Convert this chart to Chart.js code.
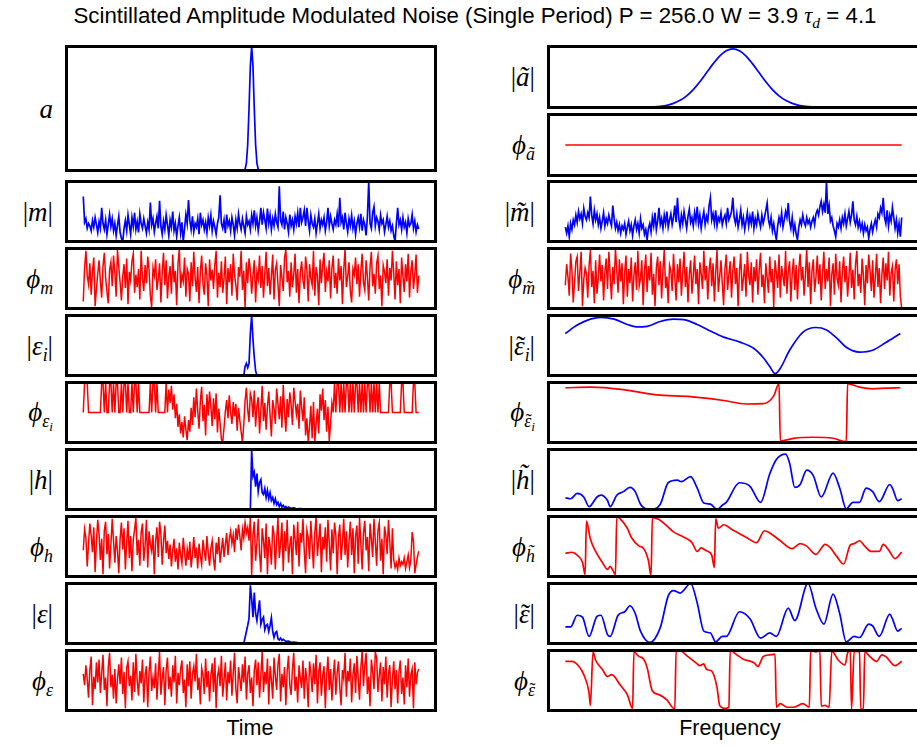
<!DOCTYPE html>
<html><head><meta charset="utf-8">
<script src="https://cdn.jsdelivr.net/npm/chart.js@4/dist/chart.umd.min.js"></script>
<style>
html,body{margin:0;padding:0;background:#fff;overflow:hidden;width:917px;height:746px}
#root{position:relative;width:917px;height:746px;overflow:hidden;background:#fff}
canvas{position:absolute}
.lbl{position:absolute;font-family:'Liberation Serif','DejaVu Serif',serif;font-size:27px;color:#000;white-space:nowrap;line-height:1;transform:translateY(-50%);text-align:right}
.lbl i{font-style:italic}
.lbl sub{font-size:0.66em;vertical-align:-0.35em;line-height:0}
.lbl sub sub{font-size:0.75em;vertical-align:-0.3em}
.tl{position:relative;display:inline-block}
.tl::after{content:'\02DC';position:absolute;left:0.08em;right:0;top:0;text-align:center;font-style:normal}
.txt{position:absolute;font-family:'Liberation Sans',Arial,sans-serif;color:#000;white-space:nowrap;line-height:1;transform:translate(-50%,-50%)}
.m{font-family:'Liberation Serif','DejaVu Serif',serif;font-style:italic}
.m sub{font-size:0.7em;vertical-align:-0.3em;line-height:0}
</style></head>
<body><div id="root"></div>
<script>
// ---------------- data ----------------
const PI = Math.PI;
const T = 3.14;
// time domain (sample index 0..255)
const aX = [0, 122, 123, 124, 125, 126, 127, 128, 129, 130, 131, 132, 133, 134, 255];
const aY = [0, 0, 0.01, 0.06, 0.21, 0.5, 0.84, 1, 0.84, 0.5, 0.21, 0.06, 0.01, 0, 0];

const mMag = [
 0.75,0.32,0.38,0.22,0.30,0.26,0.18,0.35,0.24,0.40,0.28,0.15,0.33,0.22,0.56,0.30,
 0.20,0.36,0.12,0.28,0.45,0.25,0.38,0.18,0.30,0.10,0.27,0.42,0.15,0.05,0.0,0.22,
 0.35,0.18,0.44,0.28,0.12,0.40,0.25,0.48,0.20,0.33,0.15,0.46,0.30,0.22,0.38,0.26,
 0.14,0.32,0.20,0.65,0.28,0.38,0.16,0.30,0.42,0.22,0.68,0.25,0.12,0.34,0.20,0.44,
 0.28,0.10,0.36,0.24,0.50,0.18,0.30,0.08,0.26,0.40,0.14,0.32,0.0,0.22,0.45,0.30,
 0.69,0.35,0.20,0.42,0.16,0.30,0.24,0.38,0.12,0.48,0.28,0.36,0.20,0.32,0.15,0.40,
 0.26,0.44,0.18,0.34,0.24,0.12,0.30,0.40,0.77,0.30,0.22,0.36,0.14,0.45,0.26,0.34,
 0.18,0.40,0.28,0.10,0.36,0.22,0.46,0.30,0.20,0.38,0.26,0.14,0.42,0.28,0.34,0.20,
 0.44,0.30,0.52,0.26,0.40,0.18,0.34,0.56,0.28,0.48,0.36,0.22,0.55,0.30,0.44,0.20,
 0.38,0.26,0.46,0.32,0.24,0.92,0.35,0.28,0.50,0.20,0.40,0.30,0.16,0.45,0.26,0.36,
 0.20,0.42,0.30,0.48,0.24,0.56,0.32,0.40,0.52,0.26,0.56,0.34,0.18,0.44,0.30,0.24,
 0.38,0.14,0.30,0.46,0.22,0.36,0.28,0.40,0.18,0.32,0.56,0.26,0.42,0.30,0.20,0.36,
 0.28,0.46,0.24,0.73,0.32,0.40,0.20,0.48,0.30,0.16,0.38,0.26,0.44,0.22,0.34,0.12,
 0.30,0.40,0.24,0.46,0.18,0.36,0.28,0.10,0.42,1.0,0.30,0.22,0.48,0.58,0.26,0.40,
 0.34,0.20,0.44,0.30,0.36,0.16,0.28,0.42,0.24,0.34,0.18,0.26,0.10,0.0,0.30,0.56,
 0.28,0.36,0.20,0.40,0.24,0.32,0.14,0.38,0.26,0.30,0.45,0.22,0.34,0.16,0.28,0.21];
const mPhase = [
 -2.4,1.1,2.9,0.3,-0.6,1.6,-1.7,0.8,2.2,-2.9,-1.1,0.5,1.9,-0.3,-2.0,1.3,
 2.7,0.1,-1.4,-2.6,0.9,1.7,-0.8,2.4,0.6,-1.9,3.0,1.2,-0.4,-2.3,0.2,1.5,
 -1.0,2.1,-2.7,0.7,-0.2,1.8,2.6,-1.5,0.4,-0.9,1.0,-2.2,2.9,0.0,-1.3,1.4,
 -0.5,2.3,0.9,-1.8,-3.0,1.1,0.3,2.0,-1.2,-0.1,1.6,-2.5,0.6,2.7,-0.7,1.9,
 -2.1,0.2,1.3,-1.6,2.5,-0.4,0.8,-2.8,1.5,3.1,-1.0,0.4,-0.3,2.2,-1.9,1.0,
 0.5,-2.4,1.7,-0.8,2.8,0.1,-1.4,1.2,-2.6,0.7,2.4,-0.6,-1.7,1.6,0.3,-2.9,
 2.0,-0.2,0.9,-1.1,1.4,2.9,-2.0,0.6,-0.9,1.8,-1.5,0.0,2.3,-2.7,1.1,-0.4,
 1.5,-1.8,2.6,0.4,-0.7,-2.3,1.2,0.2,2.9,-1.2,0.8,-3.1,1.7,-0.5,2.1,0.9,
 -1.6,0.3,1.9,-2.5,0.7,-0.1,2.4,-1.0,1.3,-2.0,0.5,2.8,-0.8,1.1,-1.7,0.2,
 2.5,-2.2,0.9,1.6,-0.6,-2.9,1.4,0.1,-1.3,2.2,3.0,-0.4,0.8,-1.9,1.7,-0.9,
 0.4,2.6,-1.5,1.0,-2.6,0.6,1.8,-0.2,-1.1,2.3,0.9,-2.4,1.5,0.0,-0.7,2.9,
 -1.8,1.2,0.3,-2.8,2.0,-0.5,1.4,2.7,-1.4,0.7,-0.3,1.9,-2.1,1.1,2.4,-1.0,
 0.6,-1.6,2.1,-0.2,1.3,-2.7,0.9,3.1,-0.9,0.2,1.7,-1.3,-2.5,1.0,0.4,2.2,
 -0.6,1.5,-1.9,0.8,2.6,-0.4,-1.2,1.9,0.1,-2.3,1.2,2.8,-0.8,0.5,-1.6,1.6,
 2.4,-1.1,0.3,-2.9,1.4,0.7,-0.5,2.0,-1.8,1.1,-0.2,2.9,0.6,-2.2,1.8,-0.7,
 1.0,-2.6,2.2,0.2,-1.4,1.5,-0.3,2.6,-2.0,0.8,1.9,-1.1,0.4,2.5,-1.5,0.3];

const eiX = [0, 122, 123, 124, 125, 126, 127, 128, 129, 130, 131, 132, 255];
const eiY = [0, 0, 0.15, 0.2, 0.13, 0.2, 0.7, 1.0, 0.6, 0.3, 0.08, 0, 0];
const eiPhaseLeft = [
 0,T,T,T,0,0,0,0,0,0,0,0,0,0,T,T,
 0,T,0,0,T,T,0,T,0,T,T,0,0,T,0,T,
 T,0,T,0,0,T,0,T,T,0,T,0,0,0,0,0,
 0,0,0,T,0,T,T,0,T,0,0,0,0,0,0,T,
 0];
const eiPhaseMid = [
 2.4,1.0,2.8,0.3,1.9,-0.6,0.9,-1.5,-0.2,-2.2,-1.0,-2.6,-0.4,-1.8,-2.9,-0.8,
 -2.0,0.5,-1.3,1.6,-0.5,2.5,0.2,-1.7,1.2,2.7,-0.9,0.8,-2.4,1.9,-0.3,2.2,
 0.6,-1.4,1.5,-0.7,2.0,-2.1,0.4,-1.1,-2.8,-3.1,-1.6,0.1,1.3,-0.6,1.8,0.0,
 -1.2,1.1,-0.4,0.9,-1.9,0.5,-0.8,-2.0,-3.1,-1.3,1.2,2.6,0.3,-1.0,2.0,1.4,
 -0.5,2.3,-1.5,0.7,1.6,-2.2,0.2,2.8,-0.9,1.0,-1.8,0.6,2.2,-0.3,-2.5,1.3,
 0.4,-1.2,2.5,0.9,-0.7,1.7,-1.6,2.9,0.1,-2.0,1.4,-0.5,2.1,0.8,-1.3,2.6,
 1.2,-0.2,0.9,-1.7,2.3,0.5,-0.9,1.6,-2.4,-0.6,-3.1,-1.5,0.7,-2.7,1.1,-3.0,
 -1.2,0.4,-2.2,1.9,0.2,2.5,-0.8,1.3,-2.0,0.6,-3.0,-1.1,1.0];
const eiPhaseRight = [
 0,T,0,T,T,0,T,0,T,0,T,T,0,T,0,T,
 0,T,T,0,T,0,T,0,T,0,T,T,0,T,0,T,
 0,T,0,T,0,0,0,0,0,0,0,T,T,0,0,0,
 0,0,0,0,T,T,0,0,0,0,0,0,0,T,T,0,
 0,0];

const hX = [0,127,128,129,130,131,132,133,134,135,136,137,138,139,140,141,142,143,144,145,146,147,148,149,150,151,152,153,154,155,156,158,160,162,165,170,175,180,255];
const hY = [0,0,1.0,0.55,0.62,0.38,0.6,0.3,0.45,0.5,0.28,0.25,0.35,0.2,0.32,0.18,0.28,0.15,0.2,0.1,0.18,0.08,0.12,0.05,0.1,0.04,0.07,0.03,0.05,0.02,0.04,0.015,0.03,0.01,0.015,0.008,0.004,0,0];
const hPhase = [
 -0.4,1.8,0.9,-2.1,0.3,2.4,1.2,-0.6,2.0,-2.7,0.5,2.8,1.3,-1.4,0.8,-2.9,
 1.7,2.6,-0.8,1.3,-2.3,0.2,2.9,0.6,-1.7,1.1,-0.4,-2.8,0.8,2.5,-0.3,1.9,
 -2.4,0.4,2.7,-1.2,1.1,-2.6,0.7,1.8,3.0,-0.9,0.7,-2.0,1.5,2.4,-1.5,0.1,
 2.8,-2.2,1.6,0.2,-0.5,1.2,-2.9,0.6,2.0,-1.1,2.6,1.3,-1.9,0.5,2.2,-0.7,
 0.6,-1.3,0.2,-2.1,-0.4,0.8,-1.6,-0.2,-2.4,0.4,-0.9,-1.8,0.9,-0.6,-2.0,-0.3,
 -1.4,0.5,-2.2,-0.8,1.0,-1.2,-0.1,-2.3,0.3,-1.0,-1.9,0.7,-0.5,-1.5,1.1,-0.7,
 -2.0,-0.2,0.6,-1.3,-2.5,0.4,-0.8,1.0,-1.7,-0.4,0.9,-1.1,0.2,1.4,-0.9,0.8,
 1.6,0.3,1.2,-0.6,1.9,0.7,2.3,1.1,-0.4,1.8,0.9,2.5,1.4,2.0,0.6,3.1,
 -3.0,1.2,2.6,-1.5,0.4,2.9,-0.7,-2.7,1.9,0.6,-1.2,2.4,-2.9,1.0,0.1,-1.9,
 2.2,1.3,-2.4,0.7,3.0,-1.2,0.3,2.5,-2.6,1.6,-0.5,2.8,-1.7,0.2,1.1,-2.9,
 2.3,0.8,-0.9,2.6,-2.1,1.4,0.4,2.9,-0.5,-2.8,1.7,0.9,-1.3,2.7,0.2,-2.3,
 1.5,3.1,-1.0,0.6,2.4,-2.7,1.0,-0.3,2.0,-1.6,2.8,0.4,-2.5,1.8,-0.7,2.5,
 1.2,-2.9,0.9,2.3,-1.4,0.5,2.9,-0.9,1.6,-2.2,0.5,2.6,-0.9,1.9,-2.8,1.1,
 2.2,-1.8,3.0,0.3,-2.4,1.4,2.7,-0.4,1.0,-2.6,2.4,0.8,-1.1,2.9,0.6,-2.0,
 1.7,2.5,-1.5,0.8,-2.9,2.1,1.2,-0.8,2.8,0.5,-2.3,1.9,-1.4,-2.2,-1.7,-2.4,
 -1.2,-2.0,-1.6,-1.9,-1.2,-2.3,-1.6,-0.9,-2.2,-1.4,1.5,0.6,-2.8,-1.9,-1.1,-0.5];

const eX = [0,122,123,124,125,126,127,128,129,130,131,132,133,134,135,136,137,138,139,140,141,142,143,144,145,146,147,148,149,150,151,152,154,156,158,160,163,166,170,175,180,255];
const eY = [0,0,0.1,0.2,0.3,0.42,0.97,0.75,0.44,0.85,0.5,0.38,0.55,0.72,0.32,0.4,0.44,0.23,0.3,0.32,0.2,0.3,0.43,0.2,0.1,0.18,0.2,0.08,0.06,0.09,0.05,0.07,0.035,0.04,0.02,0.025,0.015,0.01,0.008,0.003,0,0];
const ePhase = [
 0.7,-0.5,1.6,0.2,-1.8,1.1,2.5,-2.6,0.4,-0.9,1.9,-0.2,2.2,-1.3,0.8,2.7,
 -1.0,0.3,-2.7,1.4,2.9,-0.7,0.6,-1.9,1.2,-2.4,0.1,1.7,-0.4,2.4,-1.4,0.9,
 -2.9,1.3,2.0,-0.6,0.5,-2.1,1.9,-1.2,2.8,0.0,-1.6,1.0,-0.3,2.2,-2.3,0.6,
 1.5,-2.8,0.9,2.5,-1.1,0.3,-0.8,1.8,-2.0,0.7,3.0,-1.5,0.2,1.4,-2.6,1.1,
 2.4,-0.9,0.4,-1.7,1.6,-0.2,2.6,-2.4,0.8,-0.5,1.2,2.1,-1.3,0.1,-2.8,1.7,
 -0.6,2.0,-1.9,0.7,1.5,-0.1,2.8,-1.0,0.3,-2.5,1.3,0.6,-1.4,2.3,-0.7,1.0,
 -2.2,0.5,1.8,-1.2,2.4,-2.9,0.4,1.2,-0.6,2.6,-1.7,0.0,1.9,-2.1,0.9,-0.3,
 2.1,-1.6,0.8,2.9,-0.9,-2.4,1.4,0.2,-1.1,1.7,-0.2,2.5,-2.0,0.7,1.6,-1.3,
 0.3,-2.7,1.1,2.2,-0.5,1.9,-1.8,0.6,3.0,-1.2,0.9,-0.4,2.3,-2.5,1.5,0.1,
 -1.9,2.4,0.5,-1.0,1.7,2.8,-2.2,0.7,-0.7,1.4,-2.6,1.0,2.6,-0.5,-1.5,1.2,
 2.9,-1.1,0.4,-2.3,1.6,0.2,-0.8,2.1,-1.9,1.3,0.0,-2.8,2.0,0.8,-1.2,1.8,
 -0.4,2.7,-2.4,0.9,1.9,-1.6,0.5,1.5,-2.9,0.6,2.5,-1.0,1.2,-2.1,0.3,2.2,
 -1.5,0.8,2.0,-0.7,-2.6,1.1,0.2,2.9,-1.7,1.0,-0.1,2.3,-2.3,0.6,1.8,-1.3,
 2.6,0.3,-2.0,1.3,3.1,-0.6,1.6,2.9,-1.4,0.4,-2.7,2.2,0.9,-0.9,3.0,2.4,
 -1.2,0.5,1.9,-2.2,1.4,-0.4,2.5,-1.8,0.7,1.6,-2.8,0.1,2.0,-0.9,1.1,-2.4,
 0.9,2.1,-1.4,0.3,-2.5,1.6,-0.7,2.3,-1.7,0.6,1.2,-2.9,1.9,-0.4,0.8,1.2];

// frequency domain (bin index 0..255)
const aFX = [0,47,57,67,72,77,82,87,92,97,102,107,112,117,122,127,132,137,142,147,152,157,162,167,172,177,182,187,197,207,255];
const aFY = [0,0.0002,0.0016,0.009,0.019,0.037,0.070,0.122,0.199,0.306,0.439,0.591,0.744,0.877,0.968,1,0.968,0.877,0.744,0.591,0.439,0.306,0.199,0.122,0.070,0.037,0.019,0.009,0.0016,0.0002,0];
const aFPhX = [0, 255];
const aFPhY = [0, 0];

const mFMag = [
 0.24,0.14,0.26,0.08,0.30,0.20,0.36,0.28,0.44,0.32,0.50,0.38,0.46,0.30,0.55,0.42,
 0.36,0.48,0.40,0.75,0.44,0.30,0.52,0.36,0.46,0.28,0.40,0.22,0.34,0.48,0.26,0.38,
 0.30,0.44,0.34,0.26,0.60,0.38,0.22,0.32,0.18,0.28,0.14,0.26,0.20,0.30,0.12,0.24,
 0.34,0.18,0.28,0.10,0.26,0.36,0.20,0.30,0.14,0.38,0.22,0.28,0.12,0.20,0.03,0.22,
 0.30,0.16,0.40,0.26,0.48,0.20,0.34,0.56,0.28,0.38,0.22,0.44,0.30,0.50,0.24,0.36,
 0.46,0.28,0.40,0.60,0.32,0.73,0.38,0.24,0.44,0.30,0.50,0.36,0.22,0.42,0.54,0.32,
 0.40,0.26,0.48,0.34,0.58,0.30,0.44,0.22,0.38,0.50,0.28,0.42,0.34,0.60,0.73,0.36,
 0.46,0.30,0.52,0.26,0.40,0.34,0.48,0.28,0.38,0.44,0.30,0.56,0.36,0.42,0.50,0.73,
 0.40,0.30,0.46,0.24,0.36,0.52,0.28,0.40,0.20,0.34,0.48,0.26,0.42,0.30,0.50,0.22,
 0.38,0.28,0.46,0.34,0.24,0.44,0.30,0.40,0.52,0.64,0.36,0.26,0.40,0.18,0.30,0.14,
 0.03,0.26,0.40,0.30,0.48,0.24,0.36,0.50,0.40,0.64,0.34,0.22,0.40,0.16,0.28,0.12,
 0.03,0.24,0.36,0.28,0.44,0.32,0.26,0.40,0.30,0.36,0.24,0.34,0.40,0.28,0.46,0.52,
 0.44,0.58,0.67,0.50,0.62,0.48,1.0,0.46,0.60,0.34,0.40,0.26,0.18,0.08,0.30,0.24,
 0.36,0.22,0.40,0.30,0.46,0.26,0.38,0.50,0.32,0.44,0.67,0.36,0.28,0.42,0.24,0.34,
 0.20,0.30,0.14,0.28,0.18,0.24,0.06,0.20,0.30,0.16,0.28,0.36,0.24,0.46,0.40,0.56,
 0.48,0.73,0.40,0.30,0.52,0.26,0.44,0.34,0.57,0.40,0.22,0.36,0.14,0.30,0.08,0.40];
const mFPhase = [
 -0.7,1.5,0.2,-1.8,2.6,0.9,-2.5,-0.4,1.8,2.3,-1.3,0.6,2.8,-2.9,-0.1,1.1,
 0.5,-2.0,1.3,3.0,-0.9,0.8,-2.6,1.9,-1.6,0.1,2.5,-0.3,1.4,-2.3,0.7,2.1,
 -1.1,2.8,0.4,-2.2,1.2,-0.6,3.1,0.9,-1.5,2.0,-0.3,1.6,-2.7,0.6,2.4,-1.9,
 1.0,-0.5,2.2,-2.4,0.3,1.7,-1.2,2.9,-0.8,0.0,1.9,-2.8,0.7,2.5,-1.4,1.3,
 -0.2,2.7,-1.7,0.5,-2.9,1.1,2.3,-0.7,1.8,-2.1,0.9,3.0,-1.0,0.2,-2.6,1.4,
 0.8,-1.3,2.6,0.1,-2.3,1.5,-0.4,2.1,-1.8,0.6,2.8,-0.9,1.2,-2.5,0.4,1.9,
 -1.6,0.3,2.4,-0.6,1.0,-2.7,1.7,0.5,-1.1,2.9,-0.2,1.3,-2.2,0.8,2.2,-0.8,
 1.6,-2.4,0.6,3.0,-1.4,0.2,1.9,-0.5,-2.8,1.0,2.5,-1.2,0.4,1.8,-2.0,0.9,
 2.3,-0.6,1.1,-2.9,0.7,2.6,-1.3,0.0,1.5,-1.9,2.8,0.3,-0.7,1.7,-2.5,1.2,
 -0.3,2.0,-1.7,0.9,2.7,-0.9,0.4,-2.6,1.6,0.1,-1.5,2.3,-0.4,1.0,-3.0,1.9,
 0.6,-1.0,2.5,-2.0,1.3,0.2,-0.8,2.9,-1.6,0.7,1.8,-2.4,0.5,2.1,-1.2,1.4,
 -2.2,0.9,2.6,-0.2,1.2,-1.8,0.3,3.1,-0.9,1.7,-2.7,0.8,2.0,-1.4,0.1,2.4,
 -0.6,1.5,-2.3,0.6,2.8,-1.1,1.0,-0.3,2.2,-2.9,0.4,1.6,-1.7,2.6,0.0,-0.7,
 1.8,-2.5,0.7,2.3,-0.4,1.3,-1.9,0.2,2.7,-1.0,0.9,-2.2,1.5,2.9,-0.8,0.5,
 -1.5,2.1,0.3,-2.8,1.4,-0.5,2.5,0.8,-1.3,1.9,-2.0,0.1,2.6,-0.9,1.1,-2.6,
 0.4,2.2,-1.1,1.6,-0.2,2.8,-1.8,0.6,1.3,-2.4,0.9,2.0,-0.6,1.5,-1.9,-3.1];

const eiFX = [0,9,19,27,37,47,54,62,72,82,90,100,110,120,132,143,150,155,159,163,170,180,190,198,206,213,223,233,243,254];
const eiFY = [0.70,0.84,0.94,0.97,0.94,0.85,0.81,0.82,0.90,0.94,0.93,0.85,0.74,0.64,0.56,0.45,0.30,0.15,0.03,0.12,0.42,0.72,0.80,0.76,0.62,0.47,0.39,0.42,0.55,0.70];
const eiFPhX = [0,19,44,69,95,120,137,150,158,162,163,173,188,203,213,214,223,233,243,254];
const eiFPhY = [2.59,2.66,2.40,1.85,1.66,1.26,0.89,0.92,1.74,3.03,-2.99,-2.70,-2.59,-2.70,-3.07,3.03,2.66,2.48,2.55,2.59];

const hFX = [0,4,9,14,18,24,27,32,34,39,44,49,53,57,64,72,78,85,88,95,100,105,110,115,119,122,132,140,148,155,160,167,170,174,178,183,188,194,203,208,213,218,223,228,233,238,246,248,252,255];
const hFY = [0.196,0.179,0.268,0.208,0.048,0.208,0.238,0.149,0.048,0.238,0.298,0.369,0.298,0.089,0.0,0.089,0.446,0.488,0.464,0.548,0.357,0.107,0.089,0.0,0.071,0.119,0.446,0.387,0.119,0.595,0.833,0.923,0.774,0.369,0.417,0.655,0.565,0.208,0.607,0.357,0.012,0.119,0.119,0.357,0.298,0.131,0.417,0.357,0.149,0.179];
const hFPhX = [0,5,9,13,15,16,19,23,28,32,34,36,38,39,42,47,50,56,59,63,65,66,71,77,82,90,96,100,103,107,111,113,114,116,120,127,137,145,151,155,163,172,178,183,190,197,201,206,211,216,219,223,227,232,238,241,245,250,255];
const hFPhY = [-0.71,-0.60,-0.90,-1.65,-2.96,2.66,0.79,-0.52,-1.65,-2.39,-2.09,-2.47,-2.96,3.14,2.84,1.91,0.97,0.04,-0.15,-1.46,-3.07,3.03,2.84,2.17,1.53,0.97,0.41,-0.52,-0.15,-0.45,-0.90,-2.21,2.92,1.91,2.28,1.72,0.97,0.41,1.65,1.42,0.60,-0.22,0.30,0.04,-0.82,0.22,-0.15,-1.09,-1.83,0.15,0.30,0.60,0.04,-0.52,-0.52,0.22,-0.34,-1.27,-0.60];

const eFX = [0,4,9,13,18,24,27,32,34,40,45,49,53,57,64,72,78,82,87,95,100,105,110,114,119,122,132,140,148,155,160,169,174,184,190,196,203,208,213,219,223,230,233,238,246,248,252,255];
const eFY = [0.276,0.276,0.471,0.441,0.118,0.453,0.471,0.147,0.118,0.471,0.529,0.629,0.500,0.206,0.018,0.265,0.794,0.882,0.841,1.0,0.676,0.206,0.176,0.029,0.118,0.118,0.529,0.412,0.088,0.176,0.118,0.588,0.382,1.0,0.588,0.324,0.824,0.500,0.029,0.118,0.100,0.324,0.294,0.118,0.488,0.412,0.206,0.253];
const eFPhX = [0,5,10,14,18,19,21,23,28,32,35,42,47,51,52,56,59,62,66,71,77,83,84,88,93,100,102,105,107,111,115,117,121,124,125,130,135,143,146,150,155,159,160,163,168,173,180,185,186,190,193,194,197,200,202,207,212,214,216,217,219,223,224,226,227,231,236,240,243,250,255];
const eFPhY = [2.01,2.01,1.55,0.61,-1.29,-2.61,2.99,2.12,1.17,0.42,0.61,-0.53,-1.48,-2.92,2.99,2.50,2.31,1.36,-1.10,-1.48,-2.04,-2.99,3.14,3.07,2.50,1.74,1.55,1.74,1.17,0.98,-0.72,-2.61,-2.92,-2.80,3.14,2.69,2.23,1.86,1.48,2.50,2.69,2.76,-2.80,-2.42,-2.80,-2.80,-2.42,-2.80,3.14,2.99,3.14,-2.69,-2.61,-2.80,3.07,2.12,1.63,2.88,3.14,-2.99,3.07,2.99,-2.99,-2.99,2.99,2.50,2.01,2.69,2.50,1.55,2.01];

// ---------------- helpers ----------------
const N_LAST = 255;
const seq = vals => vals.map((v, i) => ({x: i * N_LAST / (vals.length - 1), y: v}));
const pairs = (xs, ys) => xs.map((x, i) => ({x: x, y: ys[i]}));
const BLUE = '#0000ff', RED = '#ff0000';
const eiPhase = eiPhaseLeft.concat(eiPhaseMid, eiPhaseRight);

const L = {x: 65, w: 372, lx: 53};
const R = {x: 547, w: 373, lx: 535};
const rowTop = k => 180 + 67 * k;
const RH = 63;
const ET = '<i class="tl">ε</i>';

const panels = [
 {c: L, t: 45, h: 127, d: pairs(aX, aY), col: BLUE, y0: 0, y1: 1, lab: '<i>a</i>'},
 {c: R, t: 45, h: 64, d: pairs(aFX, aFY), col: BLUE, y0: 0, y1: 1.04, smooth: true, lab: '|<i>ã</i>|'},
 {c: R, t: 113, h: 64, d: pairs(aFPhX, aFPhY), col: RED, y0: -PI, y1: PI, lab: '<i>ϕ</i><sub><i>ã</i></sub>'},
 {c: L, t: rowTop(0), h: RH, d: seq(mMag), col: BLUE, y0: 0, y1: 1, lab: '|<i>m</i>|'},
 {c: L, t: rowTop(1), h: RH, d: seq(mPhase), col: RED, y0: -PI, y1: PI, lw: 1.5, lab: '<i>ϕ</i><sub><i>m</i></sub>'},
 {c: L, t: rowTop(2), h: RH, d: pairs(eiX, eiY), col: BLUE, y0: 0, y1: 1, lab: '|<i>ε</i><sub><i>i</i></sub>|'},
 {c: L, t: rowTop(3), h: RH, d: seq(eiPhase), col: RED, y0: -PI, y1: PI, lw: 1.5, lab: '<i>ϕ</i><sub><i>ε<sub>i</sub></i></sub>'},
 {c: L, t: rowTop(4), h: RH, d: pairs(hX, hY), col: BLUE, y0: 0, y1: 1, lab: '|<i>h</i>|'},
 {c: L, t: rowTop(5), h: RH, d: seq(hPhase), col: RED, y0: -PI, y1: PI, lw: 1.5, lab: '<i>ϕ</i><sub><i>h</i></sub>'},
 {c: L, t: rowTop(6), h: RH, d: pairs(eX, eY), col: BLUE, y0: 0, y1: 1, lab: '|<i>ε</i>|'},
 {c: L, t: rowTop(7), h: RH, d: seq(ePhase), col: RED, y0: -PI, y1: PI, lw: 1.5, lab: '<i>ϕ</i><sub><i>ε</i></sub>'},
 {c: R, t: rowTop(0), h: RH, d: seq(mFMag), col: BLUE, y0: 0, y1: 1, lab: '|<i>m̃</i>|'},
 {c: R, t: rowTop(1), h: RH, d: seq(mFPhase), col: RED, y0: -PI, y1: PI, lw: 1.5, lab: '<i>ϕ</i><sub><i>m̃</i></sub>'},
 {c: R, t: rowTop(2), h: RH, d: pairs(eiFX, eiFY), col: BLUE, y0: 0, y1: 1, smooth: true, lab: '|' + ET + '<sub><i>i</i></sub>|'},
 {c: R, t: rowTop(3), h: RH, d: pairs(eiFPhX, eiFPhY), col: RED, y0: -PI, y1: PI, smooth: true, lab: '<i>ϕ</i><sub>' + ET + '<sub><i>i</i></sub></sub>'},
 {c: R, t: rowTop(4), h: RH, d: pairs(hFX, hFY), col: BLUE, y0: 0, y1: 1, smooth: true, lab: '|<i>h̃</i>|'},
 {c: R, t: rowTop(5), h: RH, d: pairs(hFPhX, hFPhY), col: RED, y0: -PI, y1: PI, smooth: true, lab: '<i>ϕ</i><sub><i>h̃</i></sub>'},
 {c: R, t: rowTop(6), h: RH, d: pairs(eFX, eFY), col: BLUE, y0: 0, y1: 1, smooth: true, lab: '|' + ET + '|'},
 {c: R, t: rowTop(7), h: RH, d: pairs(eFPhX, eFPhY), col: RED, y0: -PI, y1: PI, smooth: true, lab: '<i>ϕ</i><sub>' + ET + '</sub>'}
];

const framePlugin = {
  id: 'frame',
  afterDraw(chart) {
    const a = chart.chartArea, ctx = chart.ctx;
    ctx.save();
    ctx.strokeStyle = '#000';
    ctx.lineWidth = 3;
    ctx.strokeRect(a.left, a.top, a.right - a.left, a.bottom - a.top);
    ctx.restore();
  }
};

const root = document.getElementById('root');
const margin = 0.05 * N_LAST;

panels.forEach(p => {
  const cv = document.createElement('canvas');
  cv.width = p.c.w; cv.height = p.h;
  cv.style.left = p.c.x + 'px'; cv.style.top = p.t + 'px';
  cv.style.width = p.c.w + 'px'; cv.style.height = p.h + 'px';
  root.appendChild(cv);
  new Chart(cv.getContext('2d'), {
    type: 'line',
    data: {datasets: [{
      data: p.d, borderColor: p.col, borderWidth: p.lw || 1.7, pointRadius: 0,
      fill: false, tension: p.smooth ? 0.4 : 0,
      cubicInterpolationMode: p.smooth ? 'monotone' : 'default'
    }]},
    options: {
      responsive: false, animation: false, events: [], devicePixelRatio: 1,
      layout: {padding: 1.5},
      plugins: {legend: {display: false}, tooltip: {enabled: false}},
      scales: {
        x: {type: 'linear', display: false, min: -margin, max: N_LAST + margin},
        y: {type: 'linear', display: false, min: p.y0, max: p.y1}
      }
    },
    plugins: [framePlugin]
  });
  const lb = document.createElement('div');
  lb.className = 'lbl';
  lb.innerHTML = p.lab;
  lb.style.right = (917 - p.c.lx) + 'px';
  lb.style.top = (p.t + p.h / 2) + 'px';
  root.appendChild(lb);
});

function addText(html, x, y, size) {
  const t = document.createElement('div');
  t.className = 'txt';
  t.innerHTML = html;
  t.style.left = x + 'px'; t.style.top = y + 'px'; t.style.fontSize = size + 'px';
  root.appendChild(t);
}
addText('Scintillated Amplitude Modulated Noise (Single Period) P = 256.0 W = 3.9 <span class="m">τ<sub>d</sub></span> = 4.1', 475, 16, 22.3);
addText('Time', 250, 729, 21.5);
addText('Frequency', 730, 729, 21.5);
</script>
</body></html>
